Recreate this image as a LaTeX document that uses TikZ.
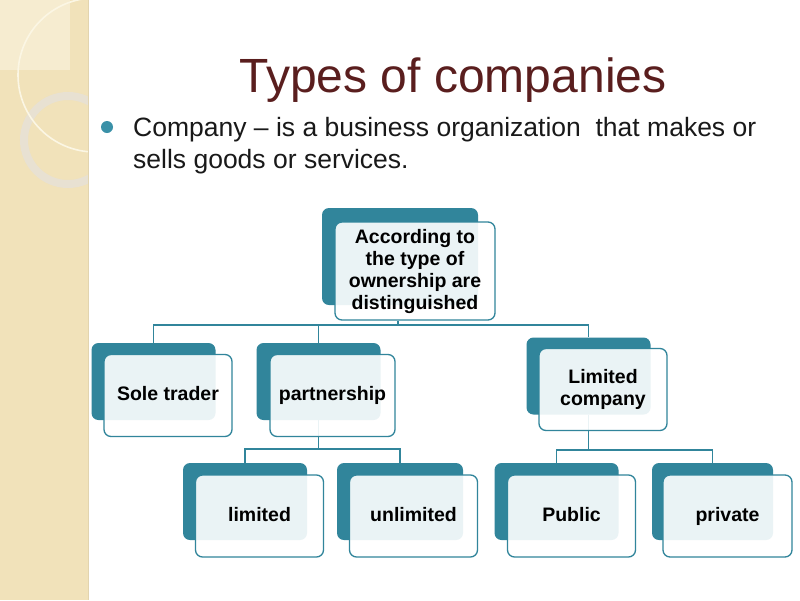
\documentclass[tikz,border=0pt]{standalone}
\usepackage{fontspec}
\setmainfont{Liberation Sans}
\definecolor{boxteal}{RGB}{49,133,155}
\definecolor{dotteal}{RGB}{58,145,168}
\definecolor{bandcol}{RGB}{241,226,186}
\definecolor{bandlight}{RGB}{246,236,208}
\definecolor{ringcol}{RGB}{232,225,210}
\definecolor{arccol}{RGB}{251,246,228}
\definecolor{bandedge}{RGB}{226,212,175}
\definecolor{titlecol}{RGB}{90,30,30}
\definecolor{textcol}{RGB}{25,25,25}
\pgfdeclarelayer{bg}
\pgfsetlayers{bg,main}
\tikzset{
  backbox/.style={fill=boxteal, rounded corners=7pt, minimum width=124pt, minimum height=77pt, inner sep=0pt},
  frontbox/.style={draw=boxteal, line width=1.3pt, fill=white, fill opacity=0.9, text opacity=1,
    rounded corners=7pt, minimum width=128pt, minimum height=82pt, inner sep=0pt,
    font=\bfseries\fontsize{19.5}{22}\selectfont, align=center, text=black},
  oneline/.style={text height=14pt, text depth=4pt},
  conn/.style={draw=boxteal, line width=1.3pt},
  bullettext/.style={anchor=base west, text=textcol, inner sep=0pt, font=\fontsize{26.5}{32}\selectfont},
}
\begin{document}
\begin{tikzpicture}[x=1pt,y=-1pt]
\useasboundingbox (0,0) rectangle (800,600);
\begin{pgfonlayer}{bg}
\fill[white] (0,0) rectangle (800,600);
\fill[bandcol] (0,0) rectangle (88,600);
\fill[bandlight] (0,0) rectangle (70,70);
\begin{scope}
\clip (0,0) rectangle (88,600);
\draw[ringcol, line width=8pt] (68,140) circle (44pt);
\draw[arccol, line width=1.6pt] (95,75) circle (77pt);
\end{scope}
\draw[bandedge, line width=1pt] (88,0) -- (88,600);
\end{pgfonlayer}

% title and bullet
\node[anchor=base, text=titlecol, font=\fontsize{48}{52}\selectfont, inner sep=0pt] (title) at (453,92) {Types of companies};
\node[circle, fill=dotteal, minimum size=12pt, inner sep=0pt] (dot) at (107,127) {};
\node[bullettext] (bullet1) at (133,136) {Company -- is a business organization\ \ that makes or};
\node[bullettext] (bullet2) at (133,168) {sells goods or services.};

% top box
\node[backbox, minimum width=156pt, minimum height=97pt] (topB) at (400,256.5) {};
\node[frontbox, minimum width=160pt, minimum height=98pt] (topF) at (415,271) {According to\\the type of\\ownership are\\distinguished};

% row 2
\node[backbox] (soleB) at (153.5,381.5) {};
\node[frontbox, oneline] (soleF) at (168,395.5) {Sole trader};
\node[backbox] (partB) at (318.5,381.5) {};
\node[frontbox, oneline, minimum width=125pt] (partF) at (332.5,395.5) {partnership};
\node[backbox] (limB) at (588.5,376) {};
\node[frontbox] (limF) at (603,389.5) {Limited\\company};

% row 3
\node[backbox] (ltdB) at (245,501.5) {};
\node[frontbox, oneline] (ltdF) at (259.5,516) {limited};
\node[backbox, minimum width=126pt] (unlB) at (400,501.5) {};
\node[frontbox, oneline] (unlF) at (413.5,516) {unlimited};
\node[backbox] (pubB) at (556.5,501.5) {};
\node[frontbox, oneline] (pubF) at (571.5,516) {Public};
\node[backbox, minimum width=121pt] (privB) at (712.5,501.5) {};
\node[frontbox, oneline, minimum width=129pt] (privF) at (727.5,516) {private};

% connectors
\coordinate (jTop) at (398,325);
\coordinate (jPart) at (319,449);
\coordinate (jLim) at (588,450);
\begin{pgfonlayer}{bg}
\draw[conn] (jTop |- topF.south) -- (jTop);
\draw[conn] (soleB.north) -- (soleB.north |- jTop) -- (limB.north |- jTop) -- (limB.north);
\draw[conn] (partB.north) -- (partB.north |- jTop);
\draw[conn] (partB.south) -- (partB.south |- jPart);
\draw[conn] (ltdB.north) -- (ltdB.north |- jPart) -- (unlB.north |- jPart) -- (unlB.north);
\draw[conn] (limB.south) -- (limB.south |- jLim);
\draw[conn] (pubB.north) -- (pubB.north |- jLim) -- (privB.north |- jLim) -- (privB.north);
\end{pgfonlayer}
\end{tikzpicture}
\end{document}
